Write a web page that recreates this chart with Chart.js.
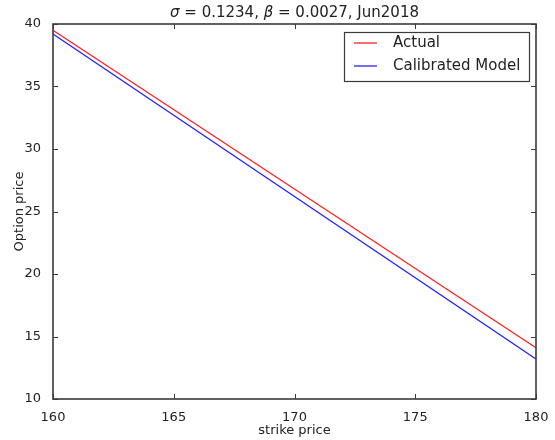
<!DOCTYPE html>
<html>
<head>
<meta charset="utf-8">
<script src="https://cdn.jsdelivr.net/npm/chart.js@4.4.0/dist/chart.umd.min.js"></script>
<style>
  html, body { margin: 0; padding: 0; background: #fff; }
  #wrap { width: 555px; height: 440px; }
</style>
</head>
<body>
<div id="wrap"><canvas id="mycanvas" width="555" height="440"></canvas></div>
<script>
// strike prices and option prices for each series
var strikes = [160, 180];
var actual = [39.5, 14.1];
var model = [39.2, 13.2];
var xTicks = [160, 165, 170, 175, 180];
var yTicks = [10, 15, 20, 25, 30, 35, 40];
var seriesNames = ['Actual', 'Calibrated Model'];

var FONT = '"DejaVu Sans", sans-serif';
var INK = '#222';

function pts(xs, ys) {
	var out = [];
	for (var i in xs) out.push({ x: xs[i], y: ys[i] });
	return out;
}

// frame, inward ticks, titles and the boxed legend, matplotlib style
var frame = {
	id: 'frame',
	afterDraw: function(chart) {
		var c = chart.ctx, a = chart.chartArea;
		var sx = chart.scales.x, sy = chart.scales.y;
		c.save();
		c.strokeStyle = '#3a3a3a';
		c.lineWidth = 1.6;
		c.strokeRect(a.left, a.top, a.right - a.left, a.bottom - a.top);

		c.lineWidth = 1;
		c.beginPath();
		xTicks.forEach(function(v) {
			var px = Math.round(sx.getPixelForValue(v)) + 0.5;
			c.moveTo(px, a.bottom); c.lineTo(px, a.bottom - 5);
			c.moveTo(px, a.top); c.lineTo(px, a.top + 5);
		});
		yTicks.forEach(function(v) {
			var py = Math.round(sy.getPixelForValue(v)) + 0.5;
			c.moveTo(a.left, py); c.lineTo(a.left + 5, py);
			c.moveTo(a.right, py); c.lineTo(a.right - 5, py);
		});
		c.stroke();

		// axis titles
		c.fillStyle = INK;
		c.font = '13px ' + FONT;
		c.textAlign = 'center';
		c.textBaseline = 'middle';
		c.fillText('strike price', (a.left + a.right) / 2, 431);
		c.save();
		c.translate(20, (a.top + a.bottom) / 2);
		c.rotate(-Math.PI / 2);
		c.fillText('Option price', 0, 0);
		c.restore();

		// title with italic greek letters
		var parts = [
			['italic ', '\u03c3'], ['', ' = 0.1234, '],
			['italic ', '\u03b2'], ['', ' = 0.0027, Jun2018']
		];
		var total = 0;
		parts.forEach(function(p) { c.font = p[0] + '15px ' + FONT; total += c.measureText(p[1]).width; });
		var tx = (a.left + a.right) / 2 - total / 2;
		c.textAlign = 'left';
		parts.forEach(function(p) {
			c.font = p[0] + '15px ' + FONT;
			c.fillText(p[1], tx, 13);
			tx += c.measureText(p[1]).width;
		});

		// legend box
		var bw = 185, bh = 49;
		var bx = a.right - 7 - bw, by = a.top + 8;
		c.fillStyle = '#fff';
		c.fillRect(bx, by, bw, bh);
		c.strokeStyle = '#3a3a3a';
		c.lineWidth = 1.2;
		c.strokeRect(bx + 0.5, by + 0.5, bw, bh);
		c.font = '15px ' + FONT;
		chart.data.datasets.forEach(function(ds, i) {
			var ly = by + 11 + i * 23;
			c.strokeStyle = ds.borderColor;
			c.lineWidth = ds.borderWidth;
			c.beginPath();
			c.moveTo(bx + 10, ly); c.lineTo(bx + 33, ly);
			c.stroke();
			c.fillStyle = INK;
			c.fillText(ds.label, bx + 49, ly);
		});
		c.restore();
	}
};

var ctx = document.getElementById('mycanvas');
var chart = new Chart(ctx, {
	type: 'line',
	data: {
		datasets: [
			{
				label: seriesNames[0],
				data: pts(strikes, actual),
				borderColor: '#ff2020',
				borderWidth: 1.3,
				pointRadius: 0,
				fill: false
			},
			{
				label: seriesNames[1],
				data: pts(strikes, model),
				borderColor: '#2020ff',
				borderWidth: 1.3,
				pointRadius: 0,
				fill: false
			}
		]
	},
	options: {
		responsive: false,
		animation: false,
		layout: { padding: { top: 24, right: 19, left: 0, bottom: 0 } },
		plugins: {
			legend: { display: false },
			title: { display: false },
			tooltip: { enabled: false }
		},
		scales: {
			x: {
				type: 'linear',
				min: 160,
				max: 180,
				afterBuildTicks: function(s) { s.ticks = xTicks.map(function(v) { return { value: v }; }); },
				afterFit: function(s) { s.height = 41; },
				grid: { display: false },
				border: { display: false },
				ticks: { color: INK, font: { family: FONT, size: 13 }, padding: 3, maxRotation: 0 }
			},
			y: {
				min: 10,
				max: 40,
				afterBuildTicks: function(s) { s.ticks = yTicks.map(function(v) { return { value: v }; }); },
				afterFit: function(s) { s.width = 53; },
				grid: { display: false },
				border: { display: false },
				ticks: { color: INK, font: { family: FONT, size: 13 }, padding: 4 }
			}
		}
	},
	plugins: [frame]
});
</script>
</body>
</html>
